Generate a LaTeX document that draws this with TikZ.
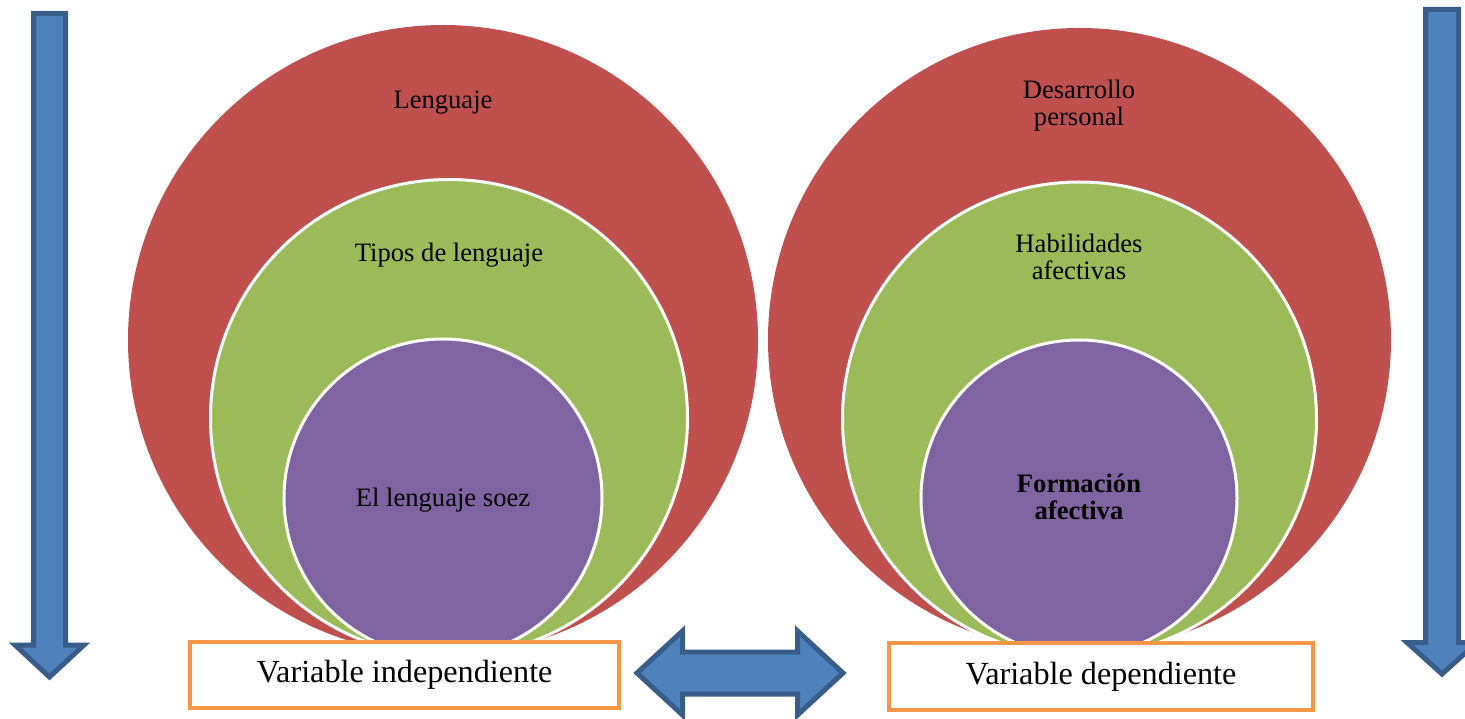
\documentclass[tikz,border=0pt]{standalone}
\usepackage{fontspec}
\setmainfont{Liberation Serif}
\definecolor{cred}{HTML}{C0504D}
\definecolor{cgreen}{HTML}{9BBB59}
\definecolor{cpurple}{HTML}{8064A2}
\definecolor{cblue}{HTML}{4F81BD}
\definecolor{cblueline}{HTML}{385D8A}
\definecolor{corange}{HTML}{F79646}
\begin{document}
\begin{tikzpicture}[x=1pt,y=-1pt,
  outercirc/.style={circle,fill=cred,inner sep=0pt,minimum size=#1},
  midcirc/.style={circle,fill=cgreen,draw=white,line width=3pt,inner sep=0pt,minimum size=#1},
  innercirc/.style={circle,fill=cpurple,draw=white,line width=3pt,inner sep=0pt,minimum size=#1},
  circtext/.style={align=center,inner sep=0pt,font=\fontsize{26.6}{26.8}\selectfont},
  varbox/.style={draw=corange,fill=white,line width=4pt,inner sep=0pt,font=\fontsize{32.2}{36}\selectfont},
  blockarrow/.style={fill=cblue,draw=cblueline,line width=5pt,line join=miter}]
\useasboundingbox (0,0) rectangle (1465,719);
% left group
\node[outercirc=630pt] (L1) at (443,340) {};
\node[midcirc=477pt] (L2) at (449,418) {};
\node[innercirc=318pt] (L3) at (443,498) {};
\node[circtext,anchor=base] (tL1) at (443,109) {Lenguaje};
\node[circtext,anchor=base] (tL2) at (449,262) {Tipos de lenguaje};
\node[circtext,anchor=base] (tL3) at (443,506) {El lenguaje soez};
% right group
\node[outercirc=623pt] (R1) at (1079.5,339.5) {};
\node[midcirc=474pt] (R2) at (1079.5,419) {};
\node[innercirc=316pt] (R3) at (1079,498) {};
\node[circtext] (tR1) at (1079,105.5) {Desarrollo\\personal};
\node[circtext] (tR2) at (1079,257) {Habilidades\\afectivas};
\node[circtext,font=\fontsize{26.6}{26.8}\selectfont\bfseries] (tR3) at (1079,497) {Formación\\afectiva};
% boxes
\node[varbox,minimum width=429pt,minimum height=66pt] (vi) at (404.5,675) {Variable independiente};
\node[varbox,minimum width=424pt,minimum height=67pt] (vd) at (1101,676.5) {Variable dependiente};
% side arrows
\draw[blockarrow] (33.5,13.5) -- (65.5,13.5) -- (65.5,645) -- (84,645) -- (49.5,677) -- (15,645) -- (33.5,645) -- cycle;
\draw[blockarrow] (1425.5,9.5) -- (1458.5,9.5) -- (1458.5,642.5) -- (1477,642.5) -- (1442,674) -- (1407,642.5) -- (1425.5,642.5) -- cycle;
% double arrow between the boxes
\draw[blockarrow] (637,673) -- (682.5,631) -- (682.5,652) -- (797.5,652) -- (797.5,631) -- (843,673) -- (797.5,715) -- (797.5,694) -- (682.5,694) -- (682.5,715) -- cycle;
\end{tikzpicture}
\end{document}
